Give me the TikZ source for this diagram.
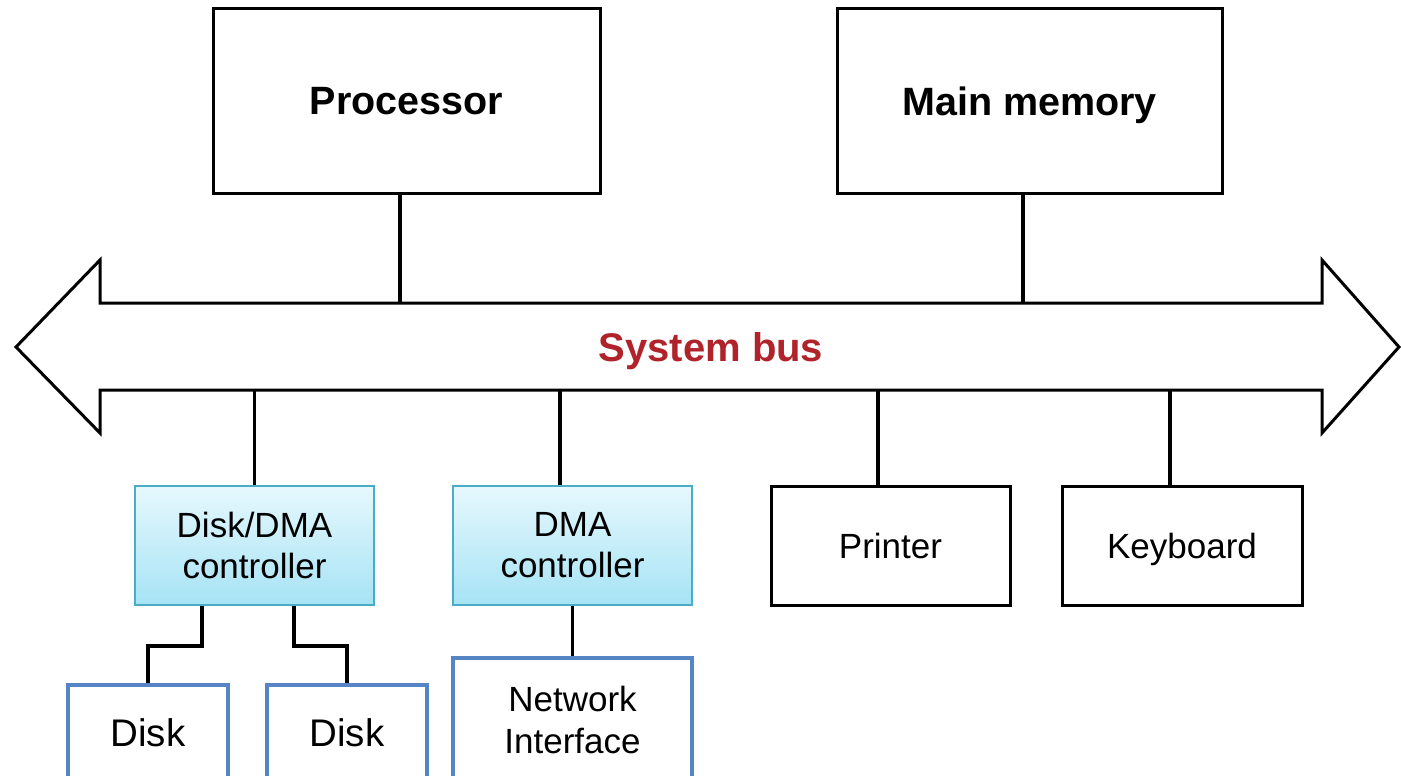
\documentclass[tikz,border=0pt]{standalone}
\usepackage{fontspec}
\setmainfont{Liberation Sans}
\definecolor{busred}{HTML}{B0232A}
\definecolor{ctlborder}{HTML}{4BACC6}
\definecolor{ctltop}{HTML}{E6F8FD}
\definecolor{ctlbot}{HTML}{A6E3F5}
\definecolor{devblue}{HTML}{5585C5}
\begin{document}
\begin{tikzpicture}[x=1pt,y=-1pt,
  bigbox/.style={draw=black, line width=3pt, minimum width=387pt, minimum height=185pt, inner sep=0pt,
    text depth=0pt, font=\fontsize{39.5}{44}\selectfont\bfseries},
  devbox/.style={draw=black, line width=3pt, minimum width=239pt, minimum height=119pt, inner sep=0pt,
    text depth=0pt, align=center, font=\fontsize{35}{41}\selectfont},
  ctlbox/.style={draw=ctlborder, line width=2pt, top color=ctltop, bottom color=ctlbot,
    minimum width=239pt, minimum height=119pt, inner sep=0pt,
    align=center, font=\fontsize{35}{41}\selectfont},
  blubox/.style={draw=devblue, line width=4pt, inner sep=0pt, align=center},
  conn/.style={line width=3.8pt, black},
  busline/.style={line width=3pt, line join=miter}]
\useasboundingbox (0,0) rectangle (1401,776);

% system bus
\draw[busline] (16,347) -- (100,260) -- (100,303) -- (1322,303) -- (1322,260) -- (1399,347)
  -- (1322,433) -- (1322,390) -- (100,390) -- (100,433) -- cycle;
\coordinate (bustop) at (0,303);
\coordinate (busbot) at (0,390);
\node[text=busred, text depth=0pt, font=\fontsize{40}{44}\selectfont\bfseries] (buslabel) at (711,347) {System bus};

% top boxes
\node[bigbox] (proc) at (406.5,101) {Processor};
\node[bigbox, minimum width=385pt] (mem) at (1029.5,101) {Main memory};

% controllers and devices
\node[ctlbox] (ddc) at (254.5,545.5) {Disk/DMA\\controller};
\node[ctlbox] (dmac) at (572.5,545.5) {DMA\\controller};
\node[devbox] (prn) at (890.5,545.5) {Printer};
\node[devbox, minimum width=240pt] (kbd) at (1182,545.5) {Keyboard};

\node[blubox, minimum width=160pt, minimum height=96pt, font=\fontsize{38.5}{44}\selectfont] (disk1) at (148,733) {Disk};
\node[blubox, minimum width=160pt, minimum height=96pt, font=\fontsize{38.5}{44}\selectfont] (disk2) at (347,733) {Disk};
\node[blubox, minimum width=239pt, minimum height=124pt, font=\fontsize{35}{42}\selectfont] (net) at (572.5,720) {Network\\Interface};

% connectors
\draw[conn] ([xshift=-6.5pt]proc.south) -- ([xshift=-6.5pt]proc.south |- bustop);
\draw[conn] ([xshift=-6.5pt]mem.south) -- ([xshift=-6.5pt]mem.south |- bustop);
\draw[conn] (ddc.north) -- (ddc.north |- busbot);
\draw[conn] ([xshift=-12.5pt]dmac.north) -- ([xshift=-12.5pt]dmac.north |- busbot);
\draw[conn] ([xshift=-12.5pt]prn.north) -- ([xshift=-12.5pt]prn.north |- busbot);
\draw[conn] ([xshift=-12pt]kbd.north) -- ([xshift=-12pt]kbd.north |- busbot);
\draw[conn] ([xshift=-52.5pt]ddc.south) -- ++(0,40) -| (disk1.north);
\draw[conn] ([xshift=39.5pt]ddc.south) -- ++(0,40) -| (disk2.north);
\draw[conn] (dmac.south) -- (net.north);
\end{tikzpicture}
\end{document}
